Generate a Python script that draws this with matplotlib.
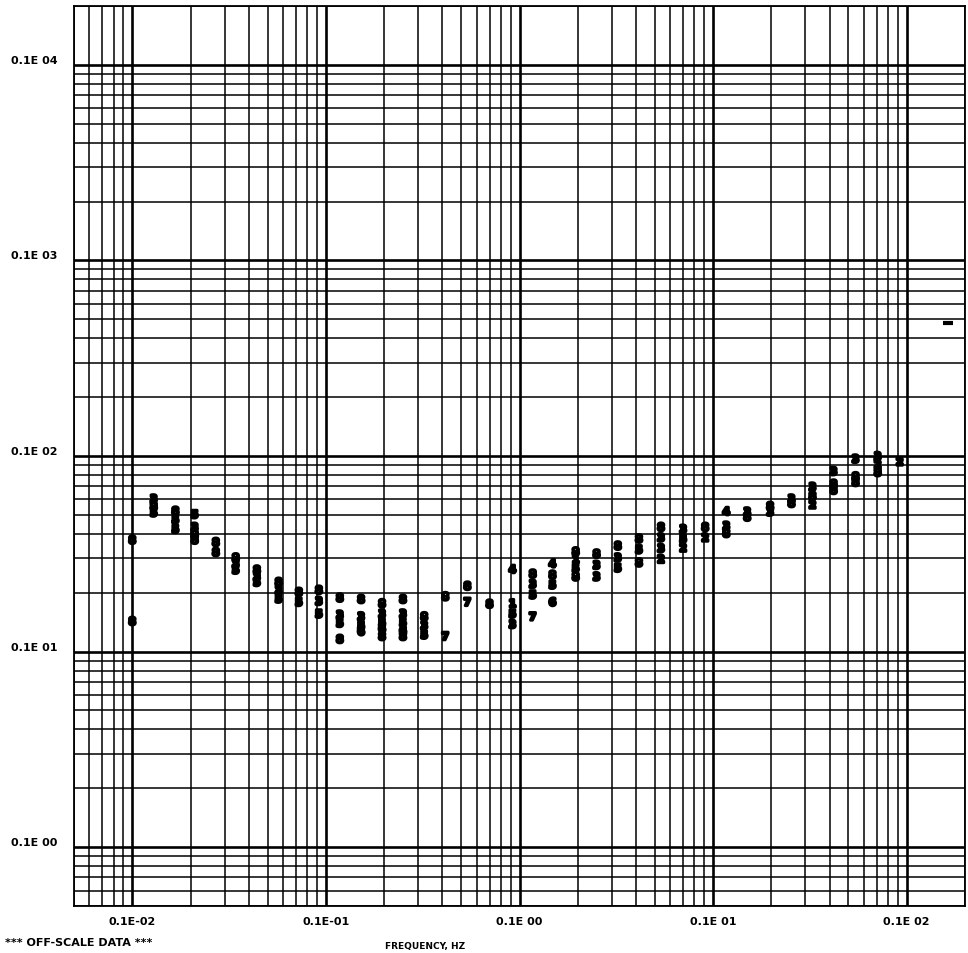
import matplotlib
matplotlib.use("Agg")
import matplotlib.pyplot as plt
import matplotlib.transforms as mtransforms
import matplotlib.patheffects as pe
from matplotlib.ticker import LogLocator, NullFormatter

# frequency (Hz) of each plotted column of symbols
col_freq = [0.001, 0.00129, 0.00167, 0.0021, 0.0027, 0.00342, 0.0044, 0.0057, 0.00725,
            0.0092, 0.0118, 0.0152, 0.0195, 0.025, 0.0322, 0.0414, 0.0538, 0.07,
            0.092, 0.117, 0.148, 0.195, 0.25, 0.322, 0.414, 0.538, 0.7, 0.91,
            1.17, 1.5, 1.97, 2.54, 3.26, 4.19, 5.44, 7.08, 9.2]

# values of the symbols at each column (top to bottom)
col_vals = [[3.7, 1.42], [6.0, 5.5, 5.1], [5.2, 4.7, 4.2], [5.0, 4.3, 3.95, 3.7],
            [3.6, 3.2], [3.0, 2.8, 2.6], [2.6, 2.4, 2.25], [2.25, 2.05, 1.85],
            [2.0, 1.78], [2.05, 1.8, 1.55], [1.87, 1.53, 1.39, 1.15],
            [1.84, 1.5, 1.35, 1.26], [1.75, 1.55, 1.4, 1.3, 1.19],
            [1.84, 1.55, 1.4, 1.27, 1.19], [1.5, 1.35, 1.21], [1.9, 1.19],
            [2.15, 1.78], [1.74], [2.62, 1.75, 1.55, 1.37], [2.48, 2.2, 1.94, 1.5],
            [2.8, 2.45, 2.18, 1.78], [3.22, 2.95, 2.65, 2.4], [3.14, 2.75, 2.4],
            [3.45, 3.0, 2.66], [3.75, 3.3, 2.83], [4.3, 3.8, 3.35, 2.95],
            [4.2, 3.75, 3.37], [4.3, 3.8], [5.18, 4.36, 4.0], [5.15, 4.85],
            [5.5, 5.15], [6.0, 5.7], [6.9, 6.2, 5.6], [8.3, 7.15, 6.65],
            [9.6, 7.8, 7.3], [9.9, 9.0, 8.2], [9.3]]

# symbol (series number) drawn for each value
col_digits = ["88", "385", "855", "5388", "88", "835", "835", "835", "85", "835",
              "8358", "8356", "83568", "83568", "835", "87", "87", "8", "4153",
              "8357", "4856", "8158", "833", "835", "858", "8332", "352", "82",
              "438", "38", "83", "38", "382", "388", "388", "328", "2"]

# off-scale marker near the right edge
offscale_freq = [16.3]
offscale_val = [48]

x_ticks = [1e-3, 1e-2, 1e-1, 1e0, 1e1]
x_labels = ["0.1E-02", "0.1E-01", "0.1E 00", "0.1E 01", "0.1E 02"]
y_ticks = [1e-1, 1e0, 1e1, 1e2, 1e3]
y_labels = ["0.1E 00", "0.1E 01", "0.1E 02", "0.1E 03", "0.1E 04"]

font = dict(family="DejaVu Sans", weight="bold", size=8)

fig = plt.figure(figsize=(9.68, 9.54), dpi=100)
ax = fig.add_axes([74 / 968, 47 / 954, 891 / 968, 900 / 954])
ax.set_xscale("log")
ax.set_yscale("log")
ax.set_xlim(5e-4, 20)
ax.set_ylim(0.05, 2000)

# grid
for axis in (ax.xaxis, ax.yaxis):
    axis.set_minor_locator(LogLocator(base=10, subs=range(2, 10), numticks=50))
    axis.set_minor_formatter(NullFormatter())
ax.grid(which="major", color="black", lw=1.9)
ax.grid(which="minor", color="black", lw=1.1)
ax.set_axisbelow(True)
for s in ax.spines.values():
    s.set_linewidth(1.3)

ax.set_xticks(x_ticks, x_labels, fontdict=font)
ax.set_yticks(y_ticks, y_labels, fontdict=font)
ax.tick_params(which="both", length=0)
ax.tick_params(axis="x", pad=7.5)
ax.tick_params(axis="y", pad=12)
shift = mtransforms.ScaledTranslation(0, 6 / 100, fig.dpi_scale_trans)
for lbl in ax.yaxis.get_majorticklabels():
    lbl.set_transform(lbl.get_transform() + shift)

# plotted symbols
stroke = [pe.withStroke(linewidth=2.2, foreground="black")]
for f, vals, digs in zip(col_freq, col_vals, col_digits):
    for v, d in zip(vals, digs):
        ax.text(f, v, d, ha="center", va="center", color="black", fontsize=7.5,
                fontweight="bold", path_effects=stroke, zorder=3)

ax.plot(offscale_freq, offscale_val, ls="none", marker="_", ms=7, mew=3, color="black")

fig.text(5 / 968, 1 - 943 / 954, "*** OFF-SCALE DATA ***", va="center", ha="left", **font)
fig.text(385 / 968, 1 - 947 / 954, "FREQUENCY, HZ", va="center", ha="left",
         family="DejaVu Sans", weight="bold", size=6.5)

fig.savefig("out.png", dpi=100, facecolor="white")
